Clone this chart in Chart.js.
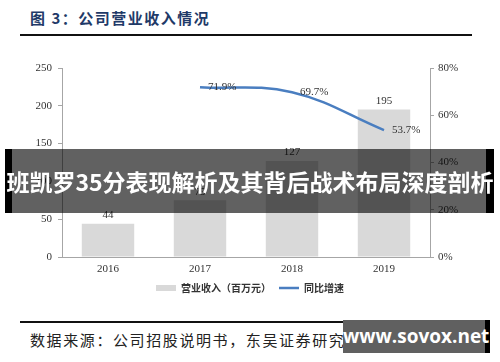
<!DOCTYPE html>
<html>
<head>
<meta charset="utf-8">
<script src="https://cdn.jsdelivr.net/npm/chart.js@4"></script>
<style>
  body { margin: 0; width: 500px; height: 362px; background: #fff; position: relative; overflow: hidden; font-family: "Noto Sans CJK SC", sans-serif; }
  #title { position: absolute; left: 30px; top: 7px; font-size: 15px; font-weight: bold; color: #1f3a68; letter-spacing: 1.5px; white-space: nowrap; }
  .rule { position: absolute; left: 20px; width: 452px; height: 2px; background: #111; }
  #source { position: absolute; left: 30px; top: 329px; font-size: 15px; color: #222; letter-spacing: 1.6px; white-space: nowrap; }
  #chartBox { position: absolute; left: 0; top: 50px; width: 500px; height: 253px; }
  #banner { position: absolute; left: 5px; top: 149px; width: 489px; height: 64px; background: rgba(0,0,0,0.62); border-left: 7px solid #000; border-right: 8px solid #000; box-sizing: border-box; }
  #bannerText { position: absolute; left: 0; top: 149px; width: 500px; height: 64px; color: #fff; font-weight: bold; font-size: 23px; line-height: 64px; text-align: center; white-space: nowrap; }
  #mark { position: absolute; left: 343px; top: 320px; width: 147px; height: 33px; background: #606060; border-right: 5px solid #000; box-sizing: border-box; color: #fff; font-family: "Open Sans", sans-serif; font-weight: bold; font-size: 19px; line-height: 33px; text-align: center; }
</style>
</head>
<body>
<div id="title">图 3：公司营业收入情况</div>
<div class="rule" style="top:34px"></div>
<div id="chartBox"><canvas id="revChart"></canvas></div>
<div class="rule" style="top:321px"></div>
<div id="source">数据来源：公司招股说明书，东吴证券研究所</div>
<div id="banner"></div>
<div id="bannerText">班凯罗35分表现解析及其背后战术布局深度剖析</div>
<div id="mark">www.sovox.net</div>

<script>
const years = ['2016', '2017', '2018', '2019'];
const revenue = [44, 75, 127, 195];          // 营业收入（百万元）
const growth = [null, 0.719, 0.697, 0.537];   // 同比增速
const revTicks = [0, 50, 100, 150, 200, 250];
const pctTicks = [0, 0.2, 0.4, 0.6, 0.8];

const axisColor = '#a6a6a6';
const serif = "'Liberation Serif', 'DejaVu Serif', serif";

// 数值标签
const valueLabels = {
  id: 'valueLabels',
  afterDatasetsDraw(chart) {
    const ctx = chart.ctx;
    ctx.save();
    ctx.font = '11px ' + serif;
    ctx.fillStyle = '#333';
    chart.getDatasetMeta(0).data.forEach((el, i) => {
      ctx.textAlign = 'center';
      ctx.textBaseline = 'bottom';
      ctx.fillText(revenue[i], el.x, el.y - 3);
    });
    chart.getDatasetMeta(1).data.forEach((el, i) => {
      if (growth[i] == null) return;
      ctx.textAlign = 'left';
      ctx.textBaseline = 'middle';
      ctx.fillText((growth[i] * 100).toFixed(1) + '%', el.x + 8, el.y);
    });
    ctx.restore();
  }
};

new Chart(document.getElementById('revChart'), {
  type: 'bar',
  data: {
    labels: years,
    datasets: [{
      label: '营业收入（百万元）',
      data: revenue,
      backgroundColor: '#d9d9d9',
      borderWidth: 0,
      categoryPercentage: 0.57,
      barPercentage: 1,
      pointStyle: 'rect',
      yAxisID: 'y',
      order: 2
    }, {
      type: 'line',
      label: '同比增速',
      data: growth,
      borderColor: '#4a7ec0',
      backgroundColor: '#4a7ec0',
      borderWidth: 2.5,
      tension: 0.4,
      pointRadius: 0,
      pointStyle: 'line',
      yAxisID: 'y1',
      order: 1
    }]
  },
  options: {
    responsive: true,
    maintainAspectRatio: false,
    animation: false,
    layout: { padding: { top: 18, left: 0, right: 0, bottom: 0 } },
    plugins: {
      tooltip: { enabled: false },
      legend: {
        position: 'bottom',
        labels: {
          usePointStyle: true,
          pointStyleWidth: 20,
          boxHeight: 6,
          padding: 8,
          color: '#333',
          font: { family: "'Noto Sans CJK SC', sans-serif", size: 10, weight: 'bold' },
          sort: (a, b) => a.datasetIndex - b.datasetIndex
        }
      }
    },
    scales: {
      x: {
        grid: { display: false, drawTicks: false },
        border: { color: axisColor },
        ticks: { color: '#333', font: { family: serif, size: 11 }, padding: 6 },
        afterFit: s => { s.height = 18; }
      },
      y: {
        position: 'left',
        min: 0, max: 250,
        afterBuildTicks: s => { s.ticks = revTicks.map(v => ({ value: v })); },
        grid: { drawOnChartArea: false, drawTicks: true, tickLength: 4, color: axisColor },
        border: { color: axisColor },
        ticks: { color: '#333', font: { family: serif, size: 11 }, padding: 6 },
        afterFit: s => { s.width = 62; }
      },
      y1: {
        position: 'right',
        min: 0, max: 0.8,
        afterBuildTicks: s => { s.ticks = pctTicks.map(v => ({ value: v })); },
        grid: { drawOnChartArea: false, drawTicks: true, tickLength: 4, color: axisColor },
        border: { color: axisColor },
        ticks: {
          color: '#333', font: { family: serif, size: 11 }, padding: 4,
          callback: v => Math.round(v * 100) + '%'
        },
        afterFit: s => { s.width = 70; }
      }
    }
  },
  plugins: [valueLabels]
});
</script>
</body>
</html>
